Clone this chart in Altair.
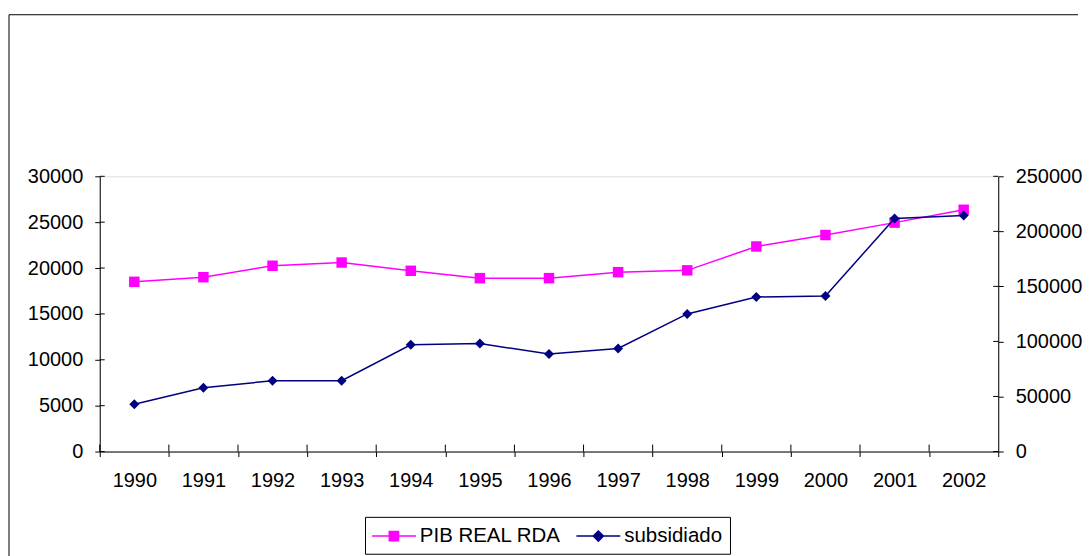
import altair as alt
import pandas as pd

# ---------------- data ----------------
years = [str(y) for y in range(1990, 2003)]
pib_real_rda = [18500, 19000, 20250, 20600, 19700, 18900, 18900, 19550, 19750, 22350, 23600, 24950, 26350]
subsidiado = [42900, 58000, 64300, 64300, 96900, 98100, 88500, 93600, 125000, 140400, 141300, 211700, 214400]
series_names = ["PIB REAL RDA", "subsidiado"]
series_colors = ["#FF00FF", "#000080"]
left_ticks = [0, 5000, 10000, 15000, 20000, 25000, 30000]
right_ticks = [0, 50000, 100000, 150000, 200000, 250000]

W, H = 901, 276
BAND = W / len(years)
FONT = "Liberation Sans"
FS = 20

df_pib = pd.DataFrame({"year": years, "value": pib_real_rda, "series": series_names[0]})
df_sub = pd.DataFrame({"year": years, "value": subsidiado, "series": series_names[1]})
df_lt = pd.DataFrame({"value": left_ticks})
df_rt = pd.DataFrame({"value": right_ticks})
df_years = pd.DataFrame({"year": years})
df_one = pd.DataFrame({"a": [0]})

x_enc = alt.X(
    "year:O",
    sort=years,
    scale=alt.Scale(type="band", domain=years, paddingInner=0, paddingOuter=0),
    axis=alt.Axis(
        title=None, labelAngle=0, tickBand="extent", tickSize=5, labelPadding=14,
        domainColor="black", tickColor="black", labelColor="black",
        labelFont=FONT, labelFontSize=FS,
    ),
)

y_left = alt.Y(
    "value:Q",
    scale=alt.Scale(domain=[0, 30000], nice=False, zero=True),
    axis=alt.Axis(
        orient="left", title=None, values=left_ticks, format="d", grid=False,
        tickSize=5, labelPadding=12, domainColor="black", tickColor="black",
        labelColor="black", labelFont=FONT, labelFontSize=FS,
    ),
)
y_right = alt.Y(
    "value:Q",
    scale=alt.Scale(domain=[0, 250000], nice=False, zero=True),
    axis=alt.Axis(
        orient="right", title=None, values=right_ticks, format="d", grid=False,
        tickSize=5, labelPadding=12, domainColor="black", tickColor="black",
        labelColor="black", labelFont=FONT, labelFontSize=FS,
    ),
)

# ---------------- left series ----------------
pib_line = alt.Chart(df_pib).mark_line(
    color=series_colors[0], strokeWidth=1.5,
    point=alt.OverlayMarkDef(shape="square", size=110, filled=True, color=series_colors[0], opacity=1),
).encode(x=x_enc, y=y_left)

# legend-only layer (invisible marks); symbols = line segment + marker
legend_def = alt.Legend(
    title=None, orient="none", legendX=266, legendY=341.5, direction="horizontal",
    symbolSize=484, symbolStrokeWidth=1.5, symbolOffset=10,
    labelFont=FONT, labelFontSize=20.5, labelColor="black", labelOffset=14,
    columnPadding=12, padding=7, strokeColor="black", fillColor="white",
)
shape_paths = [
    "M-2,0H2M-0.42,-0.42H0.42V0.42H-0.42Z",
    "M-2,0H2M0,-0.46L0.46,0L0,0.46L-0.46,0Z",
]
legend_layer = alt.Chart(df_pib).mark_point(size=0, filled=True, opacity=1).encode(
    x=x_enc, y=y_left,
    fill=alt.Fill("series:N", scale=alt.Scale(domain=series_names, range=series_colors), legend=legend_def),
    stroke=alt.Stroke("series:N", scale=alt.Scale(domain=series_names, range=series_colors), legend=legend_def),
    shape=alt.Shape("series:N", scale=alt.Scale(domain=series_names, range=shape_paths), legend=legend_def),
)

left_inner_ticks = alt.Chart(df_lt).mark_rule(color="black", strokeWidth=1).encode(
    y=y_left, x=alt.value(0), x2=alt.value(5)
)
x_inner_ticks = alt.Chart(df_years).mark_rule(color="black", strokeWidth=1, xOffset=-BAND / 2).encode(
    x=x_enc, y=alt.value(H - 7), y2=alt.value(H)
)
border_top = alt.Chart(df_one).mark_rule(color="black", strokeWidth=1).encode(
    x=alt.value(-91), x2=alt.value(981), y=alt.value(-162)
)
border_left = alt.Chart(df_one).mark_rule(color="black", strokeWidth=1).encode(
    x=alt.value(-91), y=alt.value(-162), y2=alt.value(381)
)

left = alt.layer(border_top, border_left, left_inner_ticks, x_inner_ticks, pib_line, legend_layer)

# ---------------- right series ----------------
sub_line = alt.Chart(df_sub).mark_line(
    color=series_colors[1], strokeWidth=1.5,
    point=alt.OverlayMarkDef(shape="diamond", size=100, filled=True, color=series_colors[1], opacity=1),
).encode(x=x_enc, y=y_right)
right_inner_ticks = alt.Chart(df_rt).mark_rule(color="black", strokeWidth=1).encode(
    y=y_right, x=alt.value(W - 5), x2=alt.value(W)
)
right = alt.layer(right_inner_ticks, sub_line)

chart = (
    alt.layer(left, right)
    .resolve_scale(y="independent")
    .properties(width=W, height=H, padding={"left": 0, "top": 5, "right": 0, "bottom": 0})
    .configure_view(stroke="#808080", strokeWidth=1)
    .configure(background="white")
)

chart.save("out.html", embed_options={"renderer": "svg", "actions": False})
